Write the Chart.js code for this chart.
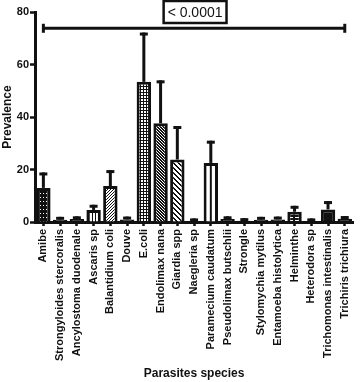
<!DOCTYPE html>
<html>
<head>
<meta charset="utf-8">
<script src="https://cdn.jsdelivr.net/npm/chart.js@4.4.1/dist/chart.umd.min.js"></script>
<style>
html,body{margin:0;padding:0;background:#fff;}
#wrap{width:361px;height:382px;position:relative;}
</style>
</head>
<body>
<div id="wrap"><canvas id="c"></canvas></div>
<script>
// ---- data ----
const categories = ["Amibe","Strongyloides stercoralis","Ancylostoma duodenale","Ascaris sp","Balantidium coli","Douve","E.coli","Endolimax nana","Giardia spp","Naegleria sp","Paramecium caudatum","Pseudolimax butschlii","Strongle","Stylomychia mytilus","Entamoeba histolytica","Helminthe","Heterodora sp","Trichomonas intestinalis","Trichiris trichiura"];
const prevalence = [13.0, 0.9, 1.1, 4.6, 13.7, 1.0, 53.4, 37.6, 23.8, 0.4, 22.5, 1.1, 0.5, 0.9, 1.0, 3.9, 0.4, 4.8, 1.2];
const errorUp =    [5.3, 0.5, 0.5, 1.4, 5.5, 0.5, 18.2, 15.8, 12.2, 0.4, 7.9, 0.5, 0.4, 0.5, 0.5, 1.7, 0.4, 2.6, 0.5];
const yTicks = [0, 20, 40, 60, 80];
const bracketValue = 73.8;
const pValueText = "< 0.0001";
const xTitle = "Parasites species";
const yTitle = "Prevalence";

// ---- styles ----
const INK = '#111';
function makePattern(w, h, bg, fg, px) {
  const c = document.createElement('canvas'); c.width = w; c.height = h;
  const g = c.getContext('2d');
  g.fillStyle = bg; g.fillRect(0, 0, w, h);
  g.fillStyle = fg;
  px.forEach(p => g.fillRect(p[0], p[1], p[2] || 1, p[3] || 1));
  return g.createPattern(c, 'repeat');
}
const P = {
  dots: makePattern(3, 4, INK, '#fff', [[1,1]]),
  solid: INK,
  vlines: makePattern(3, 1, '#fff', INK, [[2,0]]),
  diag: makePattern(3, 3, '#fff', INK, [[2,0],[1,1],[0,2]]),
  grid: makePattern(3, 3, '#fff', INK, [[0,2,3,1],[2,0,1,3]]),
  dense: makePattern(3, 3, '#fff', INK, [[0,0],[1,0],[1,1],[2,1],[2,2],[0,2]]),
  back: makePattern(5, 5, '#fff', INK, [[0,0],[1,0],[1,1],[2,1],[2,2],[3,2],[3,3],[4,3],[4,4],[0,4]]),
  center: '#fff',
  hdash: makePattern(6, 3, INK, '#fff', [[1,1,4,1]])
};
const fillKinds = ['dots','solid','solid','vlines','diag','solid','grid','dense','back','solid','center','solid','solid','solid','solid','hdash','solid','solid','solid'];

const FONT = "'Liberation Sans', Arial, sans-serif";

const overlay = {
  id: 'overlay',
  afterDatasetsDraw(chart) {
    const ctx = chart.ctx;
    const y = chart.scales.y, x = chart.scales.x;
    const meta = chart.getDatasetMeta(0);
    ctx.save();
    ctx.strokeStyle = INK;
    ctx.lineCap = 'butt';
    meta.data.forEach((el, i) => {
      // center line for Paramecium-style bar
      if (fillKinds[i] === 'center') {
        ctx.lineWidth = 2;
        ctx.beginPath();
        ctx.moveTo(el.x, el.base);
        ctx.lineTo(el.x, el.y);
        ctx.stroke();
      }
      const top = y.getPixelForValue(prevalence[i] + errorUp[i]);
      ctx.lineWidth = 3;
      ctx.beginPath();
      ctx.moveTo(el.x, el.y);
      ctx.lineTo(el.x, top - 1.5);
      ctx.stroke();
      ctx.beginPath();
      ctx.moveTo(el.x - 4, top);
      ctx.lineTo(el.x + 4, top);
      ctx.stroke();
    });
    // bracket
    const by = y.getPixelForValue(bracketValue);
    const x0 = x.getPixelForValue(0), x1 = x.getPixelForValue(categories.length - 1);
    ctx.lineWidth = 3;
    ctx.beginPath(); ctx.moveTo(x0, by); ctx.lineTo(x1, by); ctx.stroke();
    ctx.beginPath(); ctx.moveTo(x0, by - 4.5); ctx.lineTo(x0, by + 4.5); ctx.stroke();
    ctx.beginPath(); ctx.moveTo(x1, by - 4.5); ctx.lineTo(x1, by + 4.5); ctx.stroke();
    // p-value box
    const ca = chart.chartArea;
    const cx = (ca.left + ca.right) / 2 + 1;
    ctx.font = "14px " + FONT;
    const tw = ctx.measureText(pValueText).width;
    const bw = tw + 8, bh = 22;
    ctx.lineWidth = 2.5;
    ctx.fillStyle = '#fff';
    ctx.fillRect(cx - bw / 2, 1, bw, bh);
    ctx.strokeRect(cx - bw / 2, 1, bw, bh);
    ctx.fillStyle = INK;
    ctx.textAlign = 'center';
    ctx.textBaseline = 'middle';
    ctx.fillText(pValueText, cx, 13);
    ctx.restore();
  }
};

new Chart(document.getElementById('c'), {
  type: 'bar',
  data: {
    labels: categories,
    datasets: [{
      data: prevalence,
      backgroundColor: fillKinds.map(k => P[k]),
      borderColor: INK,
      borderWidth: 3,
      borderSkipped: 'start',
      barPercentage: 0.86,
      categoryPercentage: 1.0
    }]
  },
  options: {
    responsive: true,
    maintainAspectRatio: false,
    animation: false,
    devicePixelRatio: 1,
    layout: { padding: { top: 12, right: 1, left: 0, bottom: 0 } },
    plugins: { legend: { display: false }, tooltip: { enabled: false } },
    scales: {
      x: {
        grid: { display: true, drawOnChartArea: false, offset: false, tickLength: 4, tickWidth: 2.5, tickColor: INK },
        border: { display: true, color: INK, width: 3 },
        ticks: { autoSkip: false, minRotation: 90, maxRotation: 90, padding: 3, color: INK, font: { family: FONT, size: 11, weight: 'bold' } },
        title: { display: true, text: xTitle, color: INK, padding: { top: 0, bottom: 1 }, font: { family: FONT, size: 12, weight: 'bold' } },
        afterFit(s) { s.height = 160; }
      },
      y: {
        min: 0, max: 80,
        afterBuildTicks(s) { s.ticks = yTicks.map(v => ({ value: v })); },
        grid: { display: true, drawOnChartArea: false, tickLength: 5, tickWidth: 2.5, tickColor: INK },
        border: { display: true, color: INK, width: 3 },
        ticks: { padding: 1, color: INK, font: { family: FONT, size: 11, weight: 'bold' } },
        title: { display: true, text: yTitle, color: INK, padding: { top: 0, bottom: 0 }, font: { family: FONT, size: 12, weight: 'bold' } },
        afterFit(s) { s.width = 35; }
      }
    }
  },
  plugins: [overlay]
});
</script>
</body>
</html>
